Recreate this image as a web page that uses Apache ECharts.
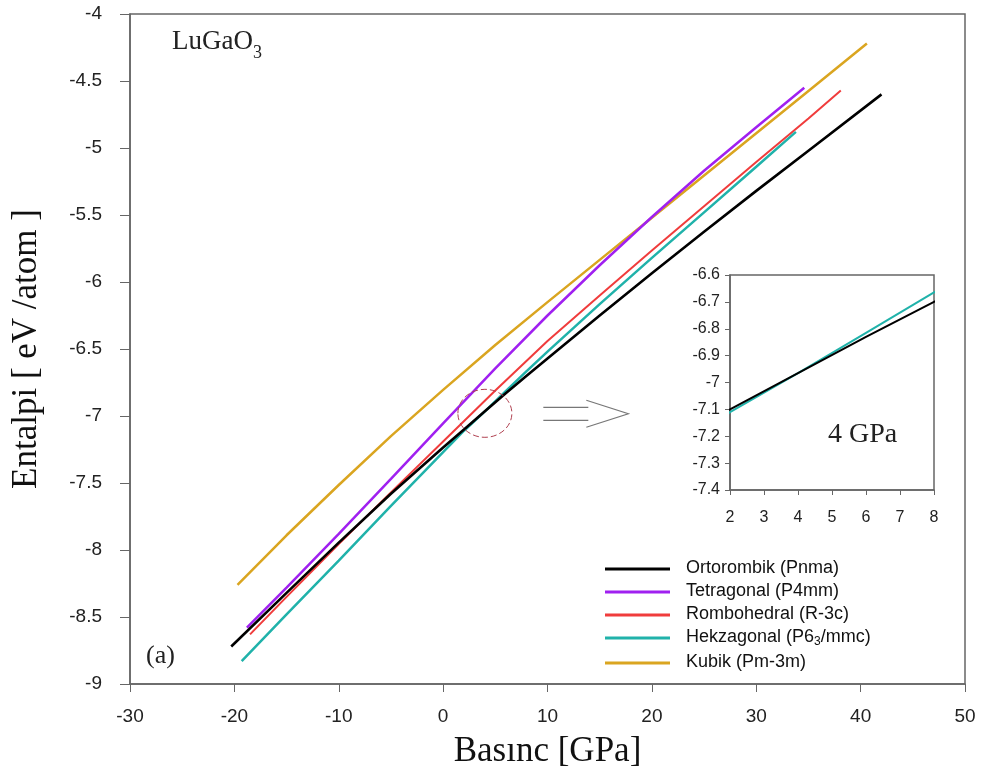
<!DOCTYPE html>
<html><head><meta charset="utf-8">
<script src="https://cdn.jsdelivr.net/npm/echarts@6/dist/echarts.min.js"></script>
<style>html,body{margin:0;padding:0;background:#fff}#c{width:983px;height:781px}</style>
</head><body><div id="c"></div>
<script>
// ---- data ----
const seriesNames = ['Ortorombik (Pnma)', 'Tetragonal (P4mm)', 'Rombohedral (R-3c)', 'Hekzagonal (P6/mmc)', 'Kubik (Pm-3m)'];
const seriesColors = ['#000000', '#a020f0', '#f03c3c', '#20b2aa', '#daa520'];

const ortoP  = [-20.3, -15, -10, -5, 0, 2, 4, 6, 8, 10, 15, 20, 25, 30, 35, 42];
const ortoH  = [-8.72, -8.32, -7.945, -7.58, -7.235, -7.10, -6.965, -6.83, -6.70, -6.57, -6.25, -5.935, -5.625, -5.32, -5.02, -4.60];

const tetraP = [-18.8, -15, -10, -5, 0, 5, 10, 15, 20, 25, 30, 34.6];
const tetraH = [-8.58, -8.28, -7.88, -7.47, -7.055, -6.645, -6.25, -5.875, -5.515, -5.17, -4.845, -4.55];

const romboP = [-18.5, -15, -10, -5, 0, 5, 10, 15, 20, 25, 30, 35, 38.1];
const romboH = [-8.63, -8.35, -7.955, -7.57, -7.19, -6.81, -6.44, -6.10, -5.765, -5.435, -5.105, -4.78, -4.57];

const hexaP  = [-19.3, -15, -10, -5, 0, 2, 4, 6, 8, 10, 15, 20, 25, 30, 33.8];
const hexaH  = [-8.83, -8.48, -8.08, -7.67, -7.27, -7.11, -6.965, -6.815, -6.665, -6.52, -6.165, -5.82, -5.48, -5.14, -4.88];

const kubikP = [-19.7, -15, -10, -5, 0, 5, 10, 15, 20, 25, 30, 35, 40.6];
const kubikH = [-8.26, -7.89, -7.515, -7.15, -6.805, -6.47, -6.15, -5.835, -5.52, -5.205, -4.89, -4.575, -4.22];

const xTicks = {min: -30, max: 50, interval: 10};
const yTicks = {min: -9, max: -4, interval: 0.5};
const insetX = {min: 2, max: 8, interval: 1};
const insetY = {min: -7.4, max: -6.6, interval: 0.1};

// ---- chart ----
const SANS = "'Liberation Sans', Arial, sans-serif";
const SERIF = "'Liberation Serif', 'Times New Roman', serif";
const zip = (p, h) => p.map((x, i) => [x, h[i]]);
const allData = [zip(ortoP, ortoH), zip(tetraP, tetraH), zip(romboP, romboH), zip(hexaP, hexaH), zip(kubikP, kubikH)];
const zOrder = [7, 4, 5, 6, 3];
const widths = [2.6, 2.5, 2, 2.5, 2.5];

const chart = echarts.init(document.getElementById('c'), null, {renderer: 'canvas'});

const mainSeries = allData.map((d, i) => ({
  name: seriesNames[i], type: 'line', xAxisIndex: 0, yAxisIndex: 0,
  data: d, symbol: 'none', showSymbol: false, smooth: false, z: zOrder[i], animation: false,
  lineStyle: {color: seriesColors[i], width: widths[i]}, itemStyle: {color: seriesColors[i]}
}));
const insetSeries = [3, 0].map(i => ({
  name: seriesNames[i], type: 'line', xAxisIndex: 1, yAxisIndex: 1,
  data: allData[i], symbol: 'none', showSymbol: false, clip: true, z: 15, animation: false,
  lineStyle: {color: seriesColors[i], width: 2}, itemStyle: {color: seriesColors[i]}
}));

const axisCol = '#666';
chart.setOption({
  animation: false,
  backgroundColor: '#fff',
  grid: [
    {left: 130, top: 14, width: 835, height: 670, show: true, borderColor: axisCol, borderWidth: 1.5, backgroundColor: 'transparent'},
    {left: 730, top: 275, width: 204, height: 215, show: true, borderColor: axisCol, borderWidth: 1.5, backgroundColor: '#fff', z: 10}
  ],
  xAxis: [
    {gridIndex: 0, type: 'value', min: xTicks.min, max: xTicks.max, interval: xTicks.interval,
     name: 'Basınc [GPa]', nameLocation: 'middle', nameGap: 50,
     nameTextStyle: {fontFamily: SERIF, fontSize: 35, color: '#111'},
     axisLine: {show: true, onZero: false, lineStyle: {color: axisCol, width: 1.5}},
     axisTick: {show: true, inside: false, length: 8, lineStyle: {color: axisCol}},
     axisLabel: {fontFamily: SANS, fontSize: 19, color: '#222', margin: 23},
     splitLine: {show: false}},
    {gridIndex: 1, type: 'value', min: insetX.min, max: insetX.max, interval: insetX.interval, z: 12,
     axisLine: {show: true, onZero: false, lineStyle: {color: axisCol, width: 1.5}},
     axisTick: {show: true, inside: false, length: 5, lineStyle: {color: axisCol}},
     axisLabel: {fontFamily: SANS, fontSize: 16, color: '#222', margin: 20},
     splitLine: {show: false}}
  ],
  yAxis: [
    {gridIndex: 0, type: 'value', min: yTicks.min, max: yTicks.max, interval: yTicks.interval,
     name: 'Entalpi [ eV /atom ]', nameLocation: 'middle', nameGap: 86, nameRotate: 90,
     nameTextStyle: {fontFamily: SERIF, fontSize: 35, color: '#111'},
     axisLine: {show: true, onZero: false, lineStyle: {color: axisCol, width: 1.5}},
     axisTick: {show: true, inside: false, length: 10, lineStyle: {color: axisCol}},
     axisLabel: {fontFamily: SANS, fontSize: 19, color: '#222', margin: 28},
     splitLine: {show: false}},
    {gridIndex: 1, type: 'value', min: insetY.min, max: insetY.max, interval: insetY.interval, z: 12,
     axisLine: {show: true, onZero: false, lineStyle: {color: axisCol, width: 1.5}},
     axisTick: {show: true, inside: false, length: 5, lineStyle: {color: axisCol}},
     axisLabel: {fontFamily: SANS, fontSize: 16, color: '#222', margin: 10},
     splitLine: {show: false}}
  ],
  legend: {
    data: seriesNames, orient: 'vertical', left: 600, top: 554,
    itemWidth: 65, itemHeight: 3, itemGap: 5,
    icon: 'path://M0,0 L65,0 L65,3 L0,3 Z',
    formatter: function (n) {
      if (n === 'Hekzagonal (P6/mmc)') return '{n|Hekzagonal (P6}{s|3}{n|/mmc)}';
      return '{n|' + n + '}';
    },
    textStyle: {
      fontFamily: SANS, fontSize: 18, color: '#111', padding: [0, 0, 0, 11],
      rich: {
        n: {fontFamily: SANS, fontSize: 18, color: '#111', lineHeight: 20, verticalAlign: 'top'},
        s: {fontFamily: SANS, fontSize: 12, color: '#111', lineHeight: 8, verticalAlign: 'bottom'}
      }
    }
  },
  series: mainSeries.concat(insetSeries)
});

// Annotations anchored via the axes
function px(x, y) { return chart.convertToPixel({gridIndex: 0}, [x, y]); }
const c = px(4, -6.98);
const a0 = px(9.6, -6.935);
chart.setOption({
  graphic: [
    {type: 'text', left: 172, top: 28, z: 20, style: {
      text: '{a|LuGaO}{b|3}', rich: {
        a: {fontFamily: SERIF, fontSize: 27, fill: '#222', lineHeight: 34, verticalAlign: 'top'},
        b: {fontFamily: SERIF, fontSize: 18, fill: '#222', lineHeight: 18, verticalAlign: 'bottom'}
      }}},
    {type: 'text', left: 146, top: 643, z: 20, style: {text: '(a)', fontFamily: SERIF, fontSize: 26, fill: '#222'}},
    {type: 'text', left: 828, top: 421, z: 30, style: {text: '4 GPa', fontFamily: SERIF, fontSize: 28, fill: '#222'}},
    {type: 'ellipse', z: 20, shape: {cx: c[0], cy: c[1], rx: 27, ry: 24},
     style: {fill: 'none', stroke: '#b04050', lineWidth: 1, lineDash: [6, 3]}},
    {type: 'polyline', z: 20, shape: {points: [[a0[0], a0[1]], [a0[0] + 45, a0[1]]]}, style: {stroke: '#777', lineWidth: 1.2, fill: 'none'}},
    {type: 'polyline', z: 20, shape: {points: [[a0[0], a0[1] + 13], [a0[0] + 45, a0[1] + 13]]}, style: {stroke: '#777', lineWidth: 1.2, fill: 'none'}},
    {type: 'polyline', z: 20, shape: {points: [[a0[0] + 43, a0[1] - 7], [a0[0] + 85, a0[1] + 6.5], [a0[0] + 43, a0[1] + 20]]}, style: {stroke: '#777', lineWidth: 1.2, fill: 'none'}}
  ]
});
</script></body></html>
